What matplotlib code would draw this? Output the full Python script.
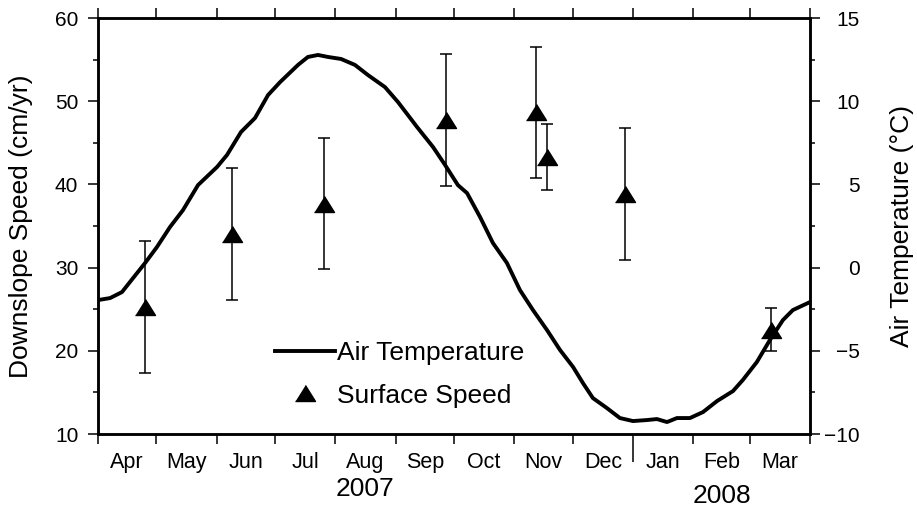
import matplotlib
matplotlib.use('Agg')
import matplotlib.pyplot as plt
import matplotlib.dates as mdates
from matplotlib.lines import Line2D
from matplotlib.ticker import FixedLocator, FixedFormatter, MultipleLocator
import numpy as np

plt.rcParams['font.family'] = ['Liberation Sans', 'DejaVu Sans']

# Air temperature (deg C), days after 2007-04-01
temp_day = [0, 6.2, 12.3, 18.0, 24.2, 30.3, 37.0, 43.7, 51.4, 61.2, 66.3, 73.5,
            80.7, 87.4, 93.6, 102.8, 107.9, 113.1, 118.2, 124.9, 132.1, 138.8,
            147.5, 154.2, 164.0, 172.2, 178.4, 185.0, 189.7, 196.4, 203.0, 210.2,
            216.9, 223.6, 230.8, 237.5, 244.2, 249.3, 254.4, 261.6, 268.3, 275.0,
            282.2, 287.3, 292.5, 297.6, 304.3, 311.0, 318.2, 326.4, 331.5, 338.7,
            345.4, 352.1, 357.2, 366.0]
temp_val = [-1.95, -1.83, -1.47, -0.63, 0.28, 1.24, 2.44, 3.46, 4.96, 6.05, 6.77, 8.15,
            8.99, 10.37, 11.15, 12.18, 12.66, 12.78, 12.66, 12.54, 12.18, 11.57,
            10.85, 9.95, 8.45, 7.25, 6.17, 4.96, 4.48, 3.04, 1.48, 0.28,
            -1.35, -2.55, -3.75, -4.95, -5.97, -6.94, -7.84, -8.44, -9.04, -9.22,
            -9.16, -9.10, -9.28, -9.04, -9.04, -8.68, -8.02, -7.42, -6.75, -5.67,
            -4.35, -3.15, -2.55, -2.07]

# Surface (downslope) speed, cm/yr
speed_date = ['2007-04-25', '2007-06-09', '2007-07-26', '2007-09-27',
              '2007-11-12', '2007-11-18', '2007-12-28', '2008-03-12']
speed_val = [25.25, 34.05, 37.7, 47.75, 48.65, 43.3, 38.85, 22.55]
speed_err = [7.95, 7.95, 7.9, 7.95, 7.85, 4.0, 7.95, 2.55]

month_labels = ['Apr', 'May', 'Jun', 'Jul', 'Aug', 'Sep', 'Oct', 'Nov', 'Dec',
                'Jan', 'Feb', 'Mar']
year_labels = ['2007', '2008']

start = mdates.date2num(np.datetime64('2007-04-01'))
temp_x = start + np.array(temp_day)
speed_x = mdates.date2num(np.array(speed_date, dtype='datetime64[D]'))
month_start = mdates.date2num(np.arange('2007-04', '2008-05', dtype='datetime64[M]')
                              .astype('datetime64[D]'))
month_mid = (month_start[:-1] + month_start[1:]) / 2

tri = [(-1, -0.8), (1, -0.8), (0, 0.8)]

fig = plt.figure(figsize=(9.17, 5.09), dpi=100)
ax = fig.add_axes([0.1069, 0.1473, 0.7764, 0.8173])
ax2 = ax.twinx()

ax.errorbar(speed_x, speed_val, yerr=speed_err, fmt='none', ecolor='black',
            elinewidth=1.1, capsize=4, capthick=1.1)
ax.plot(speed_x, speed_val, ls='none', marker=tri, ms=14.4, color='black')
ax2.plot(temp_x, temp_val, color='black', lw=2.8)

ax.set_xlim(month_start[0], month_start[-1])
ax.set_ylim(10, 60)
ax2.set_ylim(-10, 15)

for sp in ax.spines.values():
    sp.set_linewidth(1.8)

# x axis: ticks at month boundaries, labels mid-month
ax.xaxis.set_major_locator(FixedLocator(month_start))
ax.xaxis.set_major_formatter(FixedFormatter([''] * len(month_start)))
ax.xaxis.set_minor_locator(FixedLocator(month_mid))
ax.xaxis.set_minor_formatter(FixedFormatter(month_labels))
ax.tick_params(axis='x', which='major', direction='out', length=7.2, width=1.1,
               top=True)
ax.tick_params(axis='x', which='minor', length=0, pad=13, labelsize=15.5)
for t in ax.xaxis.get_major_ticks()[9:10]:
    t.tick1line.set_markersize(20)

ax.yaxis.set_major_locator(MultipleLocator(10))
ax.yaxis.set_minor_locator(MultipleLocator(5))
ax.tick_params(axis='y', which='major', direction='out', length=7.2, width=1.1,
               pad=7, labelsize=15)
ax.tick_params(axis='y', which='minor', direction='out', length=3.6, width=1.1)

ax2.yaxis.set_major_locator(MultipleLocator(5))
ax2.yaxis.set_minor_locator(MultipleLocator(2.5))
ax2.tick_params(axis='y', which='major', direction='out', length=7.2, width=1.1,
                pad=28.8, labelsize=15)
ax2.tick_params(axis='y', which='minor', direction='out', length=3.6, width=1.1)
plt.setp(ax2.get_yticklabels(), ha='right')
for sp in ax2.spines.values():
    sp.set_linewidth(1.8)

ax.set_ylabel('Downslope Speed (cm/yr)', fontsize=19)
ax.yaxis.set_label_coords(-0.0913, 0.5)
ax2.set_ylabel('Air Temperature (°C)', fontsize=19)
ax2.yaxis.set_label_coords(1.1124, 0.5)

trans = ax.get_xaxis_transform()
ax.text((month_start[0] + month_start[9]) / 2, -0.132, year_labels[0],
        transform=trans, ha='center', va='center', fontsize=19)
ax.text((month_start[9] + month_start[12]) / 2, -0.149, year_labels[1],
        transform=trans, ha='center', va='center', fontsize=19)

handles = [Line2D([], [], color='black', lw=2.8),
           Line2D([], [], ls='none', marker=tri, ms=14.4, color='black')]
ax.legend(handles, ['Air Temperature', 'Surface Speed'], frameon=False,
          loc='upper left', bbox_to_anchor=(0.248, 0.223), borderpad=0,
          borderaxespad=0, handlelength=2.3, handletextpad=0.05,
          labelspacing=0.7, fontsize=19)

fig.savefig('out.png', dpi=100)
